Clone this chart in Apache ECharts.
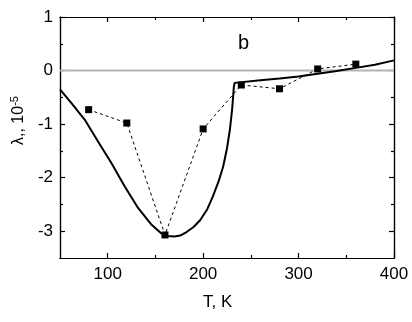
<!DOCTYPE html>
<html>
<head>
<meta charset="utf-8">
<script src="https://cdn.jsdelivr.net/npm/echarts@6/dist/echarts.min.js"></script>
<style>
html,body{margin:0;padding:0;background:#fff;}
#container{width:412px;height:322px;}
</style>
</head>
<body>
<div id="container"></div>
<script>
// measured points (squares, dashed line)
var pointT = [80, 120, 160, 200, 240, 280, 320, 360];
var pointL = [-0.73, -0.98, -3.07, -1.09, -0.27, -0.34, 0.03, 0.12];

// solid model curve
var curveT = [50, 62, 76, 90, 104, 118, 132, 146, 156, 163, 170, 176, 183, 190, 197, 204, 210, 216, 221, 225, 228, 230.5, 232.2, 233,
              260, 280, 300, 320, 340, 360, 380, 400];
var curveL = [-0.35, -0.61, -0.92, -1.33, -1.73, -2.17, -2.57, -2.88, -3.04, -3.09, -3.10, -3.08, -3.01, -2.92, -2.79, -2.6, -2.36, -2.08, -1.79, -1.45, -1.11, -0.7, -0.3, -0.23,
              -0.18, -0.15, -0.11, -0.06, -0.01, 0.05, 0.11, 0.19];

var xMajor = [100, 200, 300, 400];
var xMinor = [150, 250, 350];
var yMajor = [-3, -2, -1, 0, 1];
var yMinor = [-2.5, -1.5, -0.5, 0.5];

var font = 'Liberation Sans, Arial, sans-serif';

var myChart = echarts.init(document.getElementById('container'), null, {renderer: 'canvas'});

function zip(a, b) {
    return a.map(function (v, i) { return [v, b[i]]; });
}

function makeAxis(dir, pos, ticks, len, labels) {
    var ax = {
        type: 'value',
        position: pos,
        min: dir === 'x' ? 50 : -3.5,
        max: dir === 'x' ? 400 : 1,
        splitLine: {show: false},
        axisLine: {show: true, onZero: false, lineStyle: {color: '#000', width: 1.2}},
        axisTick: {show: true, inside: true, length: len, customValues: ticks, lineStyle: {color: '#000', width: 1.2}},
        axisLabel: {show: false}
    };
    if (labels) {
        ax.axisLabel = {
            show: true,
            customValues: ticks,
            color: '#000',
            fontSize: 17,
            fontFamily: font,
            margin: dir === 'x' ? 8 : 7
        };
    }
    return ax;
}

var option = {
    animation: false,
    backgroundColor: '#fff',
    grid: {left: 60, right: 18, top: 17, bottom: 64},
    xAxis: [
        makeAxis('x', 'bottom', xMajor, 5, true),
        makeAxis('x', 'top', xMajor, 5, false),
        makeAxis('x', 'bottom', xMinor, 3, false),
        makeAxis('x', 'top', xMinor, 3, false)
    ],
    yAxis: [
        makeAxis('y', 'left', yMajor, 5, true),
        makeAxis('y', 'right', yMajor, 5, false),
        makeAxis('y', 'left', yMinor, 3, false),
        makeAxis('y', 'right', yMinor, 3, false)
    ],
    graphic: [
        {
            type: 'text',
            left: 238, top: 33,
            style: {text: 'b', font: '20px ' + font, fill: '#000'}
        },
        {
            type: 'text',
            left: 203, top: 294,
            style: {text: 'T, K', font: '17px ' + font, fill: '#000'}
        },
        {
            type: 'text',
            x: 9, y: 145,
            rotation: Math.PI / 2,
            style: {
                text: '{a|λ,, 10}{s|-5}',
                fill: '#000',
                rich: {
                    a: {fontSize: 16, fontFamily: font, fill: '#000'},
                    s: {fontSize: 11, fontFamily: font, fill: '#000', verticalAlign: 'top', padding: [0, 0, 8, 0]}
                }
            }
        }
    ],
    series: [
        {
            type: 'line',
            data: [[50, 0], [400, 0]],
            symbol: 'none',
            silent: true,
            lineStyle: {color: '#b4b4b4', width: 2},
            z: 1
        },
        {
            type: 'line',
            data: zip(curveT, curveL),
            symbol: 'none',
            smooth: false,
            lineStyle: {color: '#000', width: 2},
            z: 3
        },
        {
            type: 'line',
            data: zip(pointT, pointL),
            symbol: 'rect',
            symbolSize: 7,
            itemStyle: {color: '#000'},
            lineStyle: {color: '#000', width: 1, type: [3, 3]},
            z: 4
        }
    ]
};

myChart.setOption(option, true);
</script>
</body>
</html>
